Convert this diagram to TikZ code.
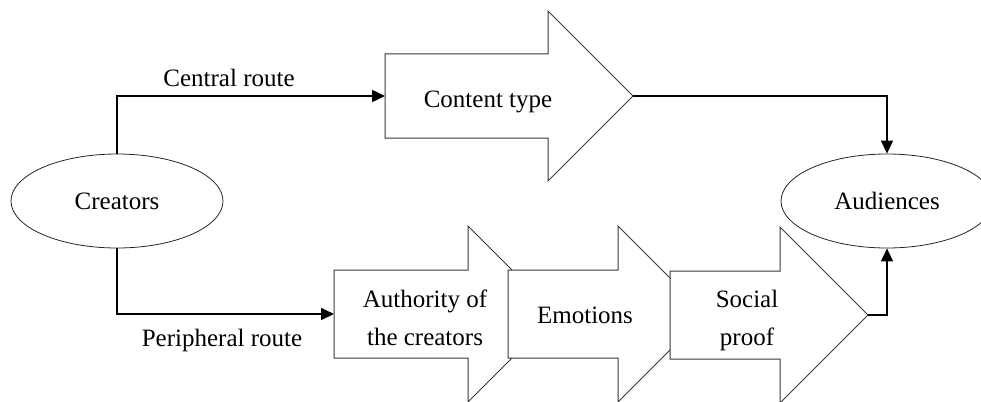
\documentclass[tikz,border=0pt]{standalone}
\usepackage{fontspec}
\setmainfont{Liberation Serif}
\usetikzlibrary{arrows.meta, shapes.geometric, positioning}
\tikzset{
    route/.style={line width=1.6pt, -{Triangle[length=13pt, width=12pt]}},
    blockarrow/.style={draw=black!78, fill=white, line width=1pt, line join=miter},
    party/.style={ellipse, draw=black!85, line width=0.8pt, minimum width=212pt, minimum height=94pt, inner sep=0pt}
}
\begin{document}
\begin{tikzpicture}[x=1pt, y=-1pt, font=\fontsize{25}{38}\selectfont]
    \useasboundingbox (0,0) rectangle (981,401);
    \clip (0,0) rectangle (981,401);
    \coordinate (content tail) at (385,96);
    \coordinate (content tip) at (633,96);
    \coordinate (authority tail) at (334,314);
    \coordinate (social tip) at (868,315);
    % block arrows, later ones cover the tips of earlier ones
    \draw[blockarrow] (content tail) ++(0,-42) -- (548,54) -- (548,11) -- (content tip) -- (548,181) -- (548,138) -- (385,138) -- cycle;
    \draw[blockarrow] (authority tail) ++(0,-44) -- (468,270) -- (468,226) -- (556,314) -- (468,402) -- (468,358) -- (334,358) -- cycle;
    \draw[blockarrow] (508,270) -- (618,270) -- (618,226) -- (706,314) -- (618,402) -- (618,358) -- (508,358) -- cycle;
    \draw[blockarrow] (670,271) -- (780,271) -- (780,227) -- (social tip) -- (780,403) -- (780,359) -- (670,359) -- cycle;
    \node[party] (creators) at (117,201) {Creators};
    \node[party] (audiences) at (887,201) {Audiences};
    \node[anchor=base] (content) at (488,107) {Content type};
    \node[align=center] (authority) at (425,317.5) {Authority of\\the creators};
    \node[anchor=base] (emotions) at (585,323) {Emotions};
    \node[align=center] (social) at (747,320.7) {Social\\proof};
    \node[anchor=base] (central) at (229,87) {Central route};
    \node[anchor=base] (peripheral) at (222,346) {Peripheral route};
    \draw[route] (creators.north) |- (content tail);
    \draw[route] (creators.south) |- (authority tail);
    \draw[route] (content tip) -| (audiences.north);
    \draw[route] (social tip) -| (audiences.south);
\end{tikzpicture}
\end{document}
